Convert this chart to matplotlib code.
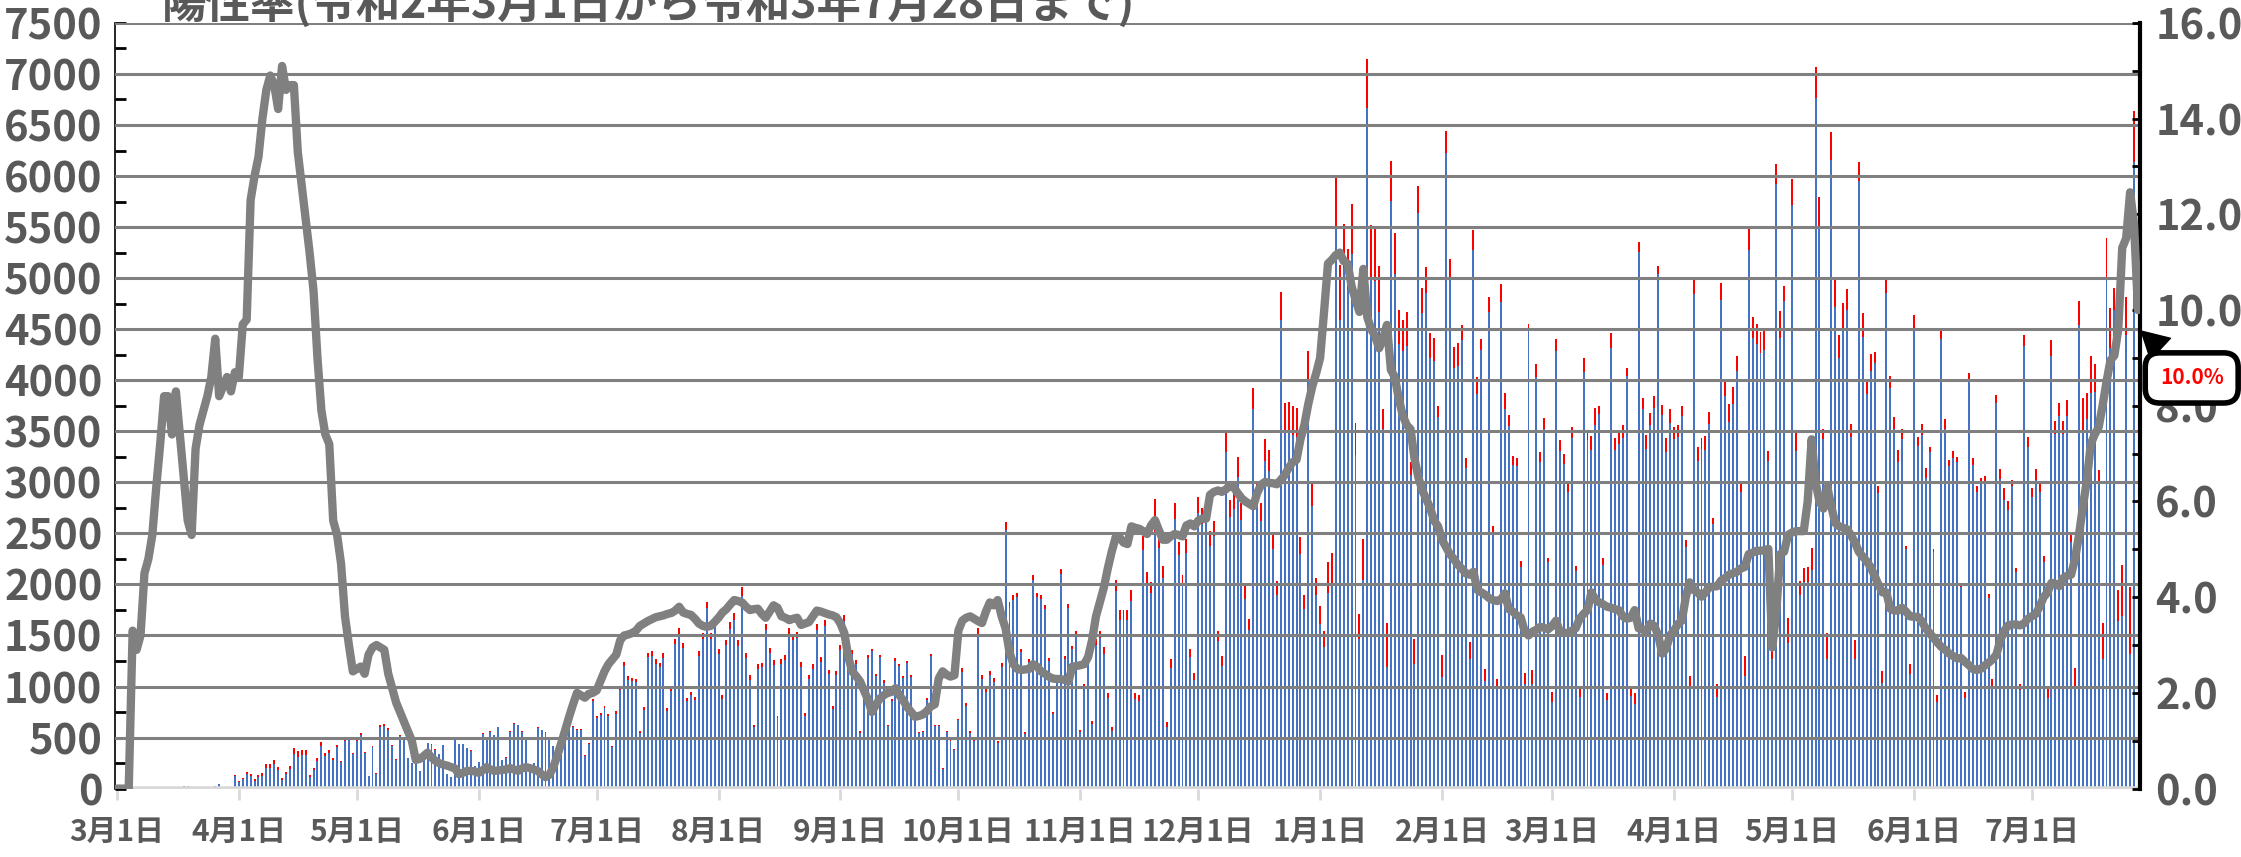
import numpy as np
import pandas as pd
import matplotlib
matplotlib.use('Agg')
import matplotlib.pyplot as plt
from matplotlib.ticker import MultipleLocator, FormatStrFormatter

plt.rcParams['font.family'] = ['Noto Sans CJK JP', 'DejaVu Sans']
plt.rcParams['font.weight'] = 'bold'

# 令和2年3月1日 〜 令和3年7月28日 (日別)
dates = pd.date_range('2020-03-01', '2021-07-28', freq='D')

# 検査数 (棒の高さ)
tests = [
    # 2020/3
    0, 2, 5, 12, 8, 15, 10, 3, 18, 6, 12, 20, 9, 4, 3, 14, 10, 22, 25, 8, 5, 2, 18, 20, 15, 30, 45, 20, 10, 12, 135,
    # 4
    75, 100, 165, 140, 90, 135, 150, 240, 240, 285, 210, 100, 165, 225, 400, 365, 375, 375, 135, 200, 300, 460, 350, 375, 300, 425, 275, 485, 500, 350,
    # 5
    475, 540, 360, 125, 415, 150, 625, 635, 590, 425, 290, 525, 490, 300, 250, 260, 175, 300, 450, 435, 385, 340, 425, 140, 115, 485, 435, 435, 400, 375, 225,
    # 6
    265, 540, 475, 560, 525, 605, 285, 305, 560, 640, 625, 560, 510, 225, 250, 600, 575, 550, 475, 415, 275, 325, 575, 600, 610, 585, 585, 325, 450, 875,
    # 7
    710, 740, 810, 735, 415, 760, 1000, 1240, 1100, 1085, 1075, 565, 800, 1330, 1350, 1265, 1235, 1330, 785, 990, 1470, 1570, 1430, 890, 950, 900, 1350, 1520, 1830, 1520, 1650,
    # 8
    1370, 915, 1460, 1630, 1720, 1455, 1970, 1330, 1110, 625, 1220, 1235, 1610, 1380, 1260, 715, 1270, 1310, 1570, 1510, 1530, 1240, 740, 1110, 1220, 1610, 1285, 1655, 1160, 810, 1150,
    # 9
    1410, 1700, 1400, 1360, 1260, 565, 1000, 1310, 1370, 1120, 1310, 1060, 625, 875, 1280, 1220, 1100, 1250, 1110, 700, 550, 565, 885, 1320, 625, 625, 200, 565, 475, 390,
    # 10
    685, 1180, 840, 565, 485, 1570, 1110, 985, 1150, 1085, 465, 1235, 2610, 1830, 1900, 1920, 1370, 550, 1270, 2095, 1920, 1900, 1800, 1280, 750, 1110, 2155, 1300, 1810, 1400, 1545,
    # 11
    575, 1020, 1320, 665, 1470, 1545, 1390, 940, 600, 2045, 1745, 1745, 1745, 1945, 940, 915, 2470, 2120, 2020, 2835, 2500, 2185, 650, 1270, 2795, 2420, 2095, 2445, 1370, 1130,
    # 12
    2860, 2745, 2770, 2520, 2620, 1545, 1300, 3510, 2830, 2910, 3245, 2795, 1985, 1660, 3920, 3010, 2795, 3420, 3320, 2510, 2035, 4865, 3780, 3790, 3750, 3730, 2460, 1895, 4290, 2980, 2060,
    # 2021/1
    1785, 1545, 2220, 2310, 5990, 5125, 5530, 5290, 5725, 3580, 1710, 2445, 7145, 5525, 5500, 5115, 3720, 1620, 6150, 5440, 4690, 4590, 4665, 3195, 1470, 5900, 4900, 5105, 4465, 4415, 3750,
    # 2
    1310, 6445, 5190, 4325, 4365, 4540, 3235, 1435, 5475, 4030, 4405, 1175, 4815, 2570, 1075, 4940, 3870, 3660, 3255, 3235, 2230, 1135, 4555, 1160, 4155, 3295, 3630, 2260,
    # 3
    950, 4405, 3410, 3280, 2995, 3545, 2185, 985, 4215, 3505, 3455, 3730, 3745, 2255, 940, 4465, 3430, 3495, 3560, 4115, 975, 935, 5355, 3830, 3460, 3680, 3850, 5115, 3760, 3430, 3720,
    # 4
    3540, 3560, 3745, 2435, 1100, 4990, 3345, 3435, 3455, 3690, 2655, 1025, 4950, 3995, 3770, 3930, 4240, 2985, 1300, 5505, 4615, 4555, 4475, 4480, 3310, 1360, 6120, 4675, 4925, 1670,
    # 5
    5975, 3480, 2030, 2160, 2170, 2360, 7070, 5790, 3520, 1520, 6435, 4990, 4440, 4755, 4890, 3570, 1455, 6140, 4655, 4015, 4255, 4280, 2960, 1150, 5015, 4040, 3640, 3320, 3520, 2380, 1220,
    # 6
    4640, 3445, 3570, 3145, 3345, 2345, 915, 4515, 3620, 3220, 3310, 3245, 2010, 950, 4075, 3235, 2960, 3045, 3060, 1905, 1075, 3855, 3130, 2945, 2820, 3020, 2160, 1025, 4440, 3445,
    # 7
    2945, 3130, 2995, 2280, 985, 4390, 3605, 3780, 3605, 3810, 2480, 1185, 4780, 3830, 3870, 4240, 4160, 3120, 1620, 5390, 4705, 4905, 1945, 2195, 4815, 1970, 6635, 0,
]

# 陽性者数 (棒の赤い部分)
positives = [
    # 2020/3
    0, 0, 0, 1, 1, 1, 1, 0, 2, 0, 1, 2, 1, 0, 0, 1, 1, 2, 2, 1, 0, 0, 2, 2, 1, 3, 4, 2, 1, 1, 12,
    # 4
    8, 10, 18, 20, 12, 18, 22, 36, 35, 42, 30, 15, 25, 33, 60, 52, 50, 45, 18, 22, 30, 40, 28, 25, 20, 22, 14, 22, 18, 10,
    # 5
    12, 14, 9, 4, 12, 5, 18, 17, 15, 9, 6, 9, 7, 4, 3, 2, 1, 2, 3, 3, 2, 2, 2, 1, 1, 2, 2, 2, 1, 2, 1,
    # 6
    1, 2, 2, 2, 2, 3, 1, 1, 2, 3, 2, 3, 2, 1, 1, 2, 1, 1, 2, 1, 1, 1, 3, 5, 8, 10, 12, 8, 9, 18,
    # 7
    18, 20, 22, 25, 12, 25, 32, 40, 36, 35, 35, 20, 28, 45, 48, 45, 43, 48, 28, 36, 55, 58, 52, 32, 34, 33, 48, 55, 65, 55, 60,
    # 8
    50, 35, 55, 62, 68, 56, 80, 52, 42, 25, 47, 46, 60, 52, 47, 28, 47, 48, 57, 55, 55, 44, 28, 40, 44, 58, 46, 60, 42, 30, 40,
    # 9
    50, 60, 48, 45, 38, 16, 25, 28, 25, 20, 25, 22, 14, 18, 26, 22, 18, 20, 17, 11, 9, 9, 15, 25, 14, 14, 5, 12, 11, 9,
    # 10
    17, 35, 30, 20, 17, 55, 38, 38, 42, 40, 18, 42, 80, 52, 50, 48, 35, 15, 32, 52, 48, 45, 42, 30, 20, 28, 50, 30, 45, 36, 42,
    # 11
    18, 30, 40, 30, 65, 70, 70, 55, 40, 110, 95, 92, 90, 105, 60, 55, 130, 110, 105, 330, 140, 120, 45, 85, 155, 135, 115, 140, 85, 70,
    # 12
    165, 155, 160, 145, 150, 100, 95, 215, 165, 170, 190, 165, 125, 110, 200, 185, 175, 210, 205, 160, 135, 275, 290, 290, 290, 290, 165, 135, 300, 215, 165,
    # 2021/1
    175, 160, 300, 300, 475, 535, 420, 400, 485, 310, 240, 400, 475, 535, 530, 450, 200, 425, 390, 400, 335, 300, 325, 125, 250, 260, 245, 255, 250, 225, 110,
    # 2
    215, 220, 210, 210, 225, 150, 90, 165, 195, 165, 105, 125, 150, 75, 100, 175, 150, 105, 85, 75, 60, 110, 65, 135, 125, 100, 110, 40,
    # 3
    100, 115, 100, 100, 85, 115, 55, 85, 135, 95, 135, 170, 75, 60, 75, 150, 110, 115, 130, 75, 65, 110, 100, 115, 130, 120, 125, 75, 100, 135, 140,
    # 4
    120, 115, 100, 65, 100, 150, 135, 105, 135, 120, 60, 125, 160, 145, 175, 165, 150, 80, 200, 225, 200, 200, 210, 180, 105, 90, 200, 260, 145, 240,
    # 5
    260, 170, 135, 140, 150, 215, 310, 300, 100, 250, 275, 275, 225, 240, 200, 125, 185, 185, 230, 150, 165, 115, 65, 120, 160, 115, 115, 125, 100, 35, 100,
    # 6
    140, 90, 110, 100, 50, 25, 65, 110, 100, 65, 75, 50, 40, 65, 85, 65, 50, 65, 65, 35, 75, 80, 100, 115, 90, 60, 40, 60, 100, 100,
    # 7
    85, 110, 85, 60, 100, 150, 135, 135, 135, 165, 60, 185, 235, 320, 250, 365, 280, 125, 350, 400, 390, 215, 300, 500, 375, 650, 500, 0,
]

# 陽性率 % (右軸, 折れ線)
rate = [
    # 2020/3
    0, 0, 0, 0, 3.3, 2.9, 3.2, 4.5, 4.8, 5.3, 6.3, 7.2, 8.2, 8.2, 7.4, 8.3, 7.4, 6.5, 5.6, 5.3, 7.1, 7.6, 7.9, 8.2, 8.6, 9.4, 8.2, 8.4, 8.6, 8.3, 8.7,
    # 4
    8.6, 9.7, 9.8, 12.3, 12.8, 13.2, 14.0, 14.6, 14.9, 14.7, 14.2, 15.1, 14.6, 14.7, 14.7, 13.3, 12.6, 11.9, 11.2, 10.4, 9.0, 7.9, 7.4, 7.2, 5.6, 5.3, 4.7, 3.6, 3.0, 2.45,
    # 5
    2.5, 2.55, 2.4, 2.8, 2.95, 3.0, 2.95, 2.9, 2.4, 2.1, 1.8, 1.6, 1.4, 1.2, 1.0, 0.6, 0.62, 0.68, 0.75, 0.65, 0.58, 0.53, 0.5, 0.48, 0.45, 0.42, 0.3, 0.33, 0.37, 0.37, 0.36,
    # 6
    0.33, 0.38, 0.45, 0.4, 0.37, 0.38, 0.39, 0.4, 0.43, 0.4, 0.37, 0.42, 0.45, 0.43, 0.4, 0.37, 0.3, 0.24, 0.29, 0.45, 0.69, 0.95, 1.22, 1.5, 1.76, 2.0, 1.95, 1.9, 1.98, 2.0,
    # 7
    2.05, 2.25, 2.45, 2.6, 2.7, 2.8, 3.1, 3.2, 3.22, 3.25, 3.3, 3.4, 3.45, 3.5, 3.54, 3.58, 3.6, 3.62, 3.65, 3.67, 3.72, 3.8, 3.68, 3.65, 3.63, 3.55, 3.45, 3.4, 3.38, 3.4, 3.48,
    # 8
    3.57, 3.68, 3.75, 3.85, 3.94, 3.92, 3.89, 3.8, 3.73, 3.75, 3.76, 3.65, 3.57, 3.7, 3.83, 3.78, 3.6, 3.57, 3.52, 3.55, 3.57, 3.42, 3.45, 3.48, 3.6, 3.72, 3.7, 3.67, 3.64, 3.62, 3.58,
    # 9
    3.45, 3.25, 2.75, 2.45, 2.35, 2.24, 2.05, 1.86, 1.6, 1.75, 1.88, 1.95, 2.0, 2.02, 2.1, 1.95, 1.84, 1.7, 1.6, 1.5, 1.52, 1.55, 1.62, 1.72, 1.76, 2.3, 2.45, 2.38, 2.34, 2.37,
    # 10
    3.3, 3.51, 3.57, 3.6, 3.55, 3.5, 3.46, 3.7, 3.89, 3.83, 3.94, 3.6, 3.35, 2.85, 2.6, 2.5, 2.48, 2.49, 2.5, 2.6, 2.55, 2.45, 2.4, 2.34, 2.3, 2.29, 2.29, 2.27, 2.24, 2.55, 2.56,
    # 11
    2.58, 2.6, 2.75, 3.1, 3.6, 3.9, 4.2, 4.6, 4.95, 5.25, 5.25, 5.14, 5.11, 5.48, 5.45, 5.43, 5.38, 5.32, 5.5, 5.61, 5.4, 5.2, 5.2, 5.27, 5.32, 5.3, 5.27, 5.5, 5.54, 5.48,
    # 12
    5.6, 5.64, 5.64, 6.14, 6.2, 6.23, 6.2, 6.25, 6.33, 6.3, 6.18, 6.07, 6.0, 5.95, 5.9, 6.18, 6.35, 6.41, 6.39, 6.38, 6.36, 6.45, 6.55, 6.7, 6.82, 6.87, 7.3, 7.6, 8.04, 8.4, 8.68,
    # 2021/1
    9.0, 9.96, 10.97, 11.05, 11.15, 11.2, 11.02, 10.97, 10.5, 10.22, 9.96, 10.86, 9.85, 9.6, 9.45, 9.2, 9.4, 9.69, 8.75, 8.6, 8.15, 7.8, 7.6, 7.51, 6.9, 6.5, 6.23, 6.05, 5.86, 5.6, 5.48,
    # 2
    5.2, 5.05, 4.9, 4.8, 4.68, 4.6, 4.5, 4.47, 4.53, 4.15, 4.1, 4.05, 3.98, 3.94, 3.92, 3.95, 4.08, 3.75, 3.7, 3.62, 3.58, 3.3, 3.2, 3.28, 3.32, 3.38, 3.36, 3.33,
    # 3
    3.4, 3.51, 3.27, 3.26, 3.25, 3.3, 3.35, 3.55, 3.65, 3.73, 4.1, 3.95, 3.89, 3.85, 3.8, 3.78, 3.75, 3.73, 3.6, 3.55, 3.57, 3.73, 3.35, 3.32, 3.3, 3.45, 3.4, 3.2, 2.82, 2.93, 3.2,
    # 4
    3.3, 3.44, 3.51, 4.0, 4.31, 4.15, 4.1, 4.01, 4.1, 4.21, 4.22, 4.23, 4.35, 4.4, 4.47, 4.5, 4.53, 4.6, 4.63, 4.9, 4.93, 4.97, 4.97, 4.98, 5.01, 2.95, 3.67, 4.9, 4.95, 5.3,
    # 5
    5.35, 5.38, 5.38, 5.38, 6.0, 7.3, 6.4, 6.0, 5.85, 6.3, 5.9, 5.55, 5.48, 5.45, 5.42, 5.3, 5.15, 4.95, 4.85, 4.75, 4.63, 4.45, 4.26, 4.1, 4.1, 3.76, 3.72, 3.72, 3.78, 3.7, 3.6,
    # 6
    3.59, 3.59, 3.5, 3.35, 3.25, 3.15, 3.05, 2.96, 2.9, 2.82, 2.77, 2.72, 2.73, 2.65, 2.58, 2.5, 2.48, 2.5, 2.57, 2.63, 2.7, 2.8, 3.1, 3.3, 3.41, 3.43, 3.43, 3.41, 3.45, 3.55,
    # 7
    3.6, 3.65, 3.8, 4.0, 4.1, 4.3, 4.28, 4.23, 4.4, 4.45, 4.47, 4.8, 5.3, 5.9, 6.44, 7.2, 7.4, 7.55, 8.0, 8.5, 8.95, 9.05, 9.6, 11.3, 11.5, 12.46, 11.8, 10.0,
]

title = '陽性率(令和2年3月1日から令和3年7月28日まで)'
callout = '10.0%'

tests = np.array(tests)
positives = np.array(positives)
rate = np.array(rate)
x = np.arange(len(dates))

month_idx = np.nonzero(dates.day == 1)[0]
month_labels = [f'{d.month}月1日' for d in dates[month_idx]]

blue = '#4472C4'
red = '#FF0000'
grey = '#808080'
label_grey = '#595959'

fig = plt.figure(figsize=(22.41, 8.57), dpi=100)
ax = fig.add_axes([0.0513, 0.0798, 0.9036, 0.8935])
ax2 = ax.twinx()

# 棒: 陰性(青) + 陽性(赤)
ax.bar(x, tests - positives, width=0.5, color=blue, linewidth=0, zorder=2)
ax.bar(x, positives, bottom=tests - positives, width=0.5, color=red, linewidth=0, zorder=2)

for v in range(500, 7501, 500):
    ax.axhline(v, color=grey, lw=2.2, zorder=3)
ax.axhline(0, color='#D9D9D9', lw=4, zorder=3)

ax.set_xlim(-0.5, len(x) - 0.5)
ax.set_ylim(0, 7500)
ax.yaxis.set_major_locator(MultipleLocator(500))
ax.yaxis.set_minor_locator(MultipleLocator(250))
ax.set_xticks(month_idx)
ax.set_xticklabels(month_labels)

ax.tick_params(axis='y', which='major', direction='in', length=8, width=2, color='black',
               labelsize=30, labelcolor=label_grey, pad=9)
ax.tick_params(axis='y', which='minor', direction='in', length=8, width=2, color='black')
ax.tick_params(axis='x', direction='out', length=8, width=2, color='#D9D9D9',
               labelsize=21.5, labelcolor=label_grey, pad=12)

for s in ['top', 'right', 'bottom']:
    ax.spines[s].set_visible(False)
ax.spines['left'].set_color('black')
ax.spines['left'].set_linewidth(1.2)

# 陽性率の折れ線 (右軸)
ax2.plot(x, rate, color=grey, lw=6, solid_joinstyle='round', solid_capstyle='round', zorder=5)
ax2.set_ylim(0, 16)
ax2.yaxis.set_major_locator(MultipleLocator(2))
ax2.yaxis.set_minor_locator(MultipleLocator(1))
ax2.yaxis.set_major_formatter(FormatStrFormatter('%.1f'))
ax2.tick_params(axis='y', which='major', direction='in', length=6, width=2, color='black',
                labelsize=30, labelcolor=label_grey, pad=11)
ax2.tick_params(axis='y', which='minor', direction='in', length=6, width=2, color='black')
for s in ['top', 'left', 'bottom']:
    ax2.spines[s].set_visible(False)
ax2.spines['right'].set_color('black')
ax2.spines['right'].set_linewidth(3)

ax2.annotate(callout, xy=(x[-1] + 0.3, rate[-1] - 0.4), xycoords='data',
             xytext=(0.978, 0.559), textcoords='figure fraction',
             ha='center', va='center', fontsize=15, color=red, fontweight='bold',
             bbox=dict(boxstyle='round,pad=0.7', fc='white', ec='black', lw=4),
             arrowprops=dict(arrowstyle='wedge,tail_width=1.4,shrink_factor=0.5',
                             fc='black', ec='black', lw=1),
             annotation_clip=False, zorder=10)

fig.text(0.2896, 0.979, title, ha='center', va='baseline', fontsize=32,
         color=label_grey, fontweight='bold')

fig.savefig('out.png', dpi=100)
